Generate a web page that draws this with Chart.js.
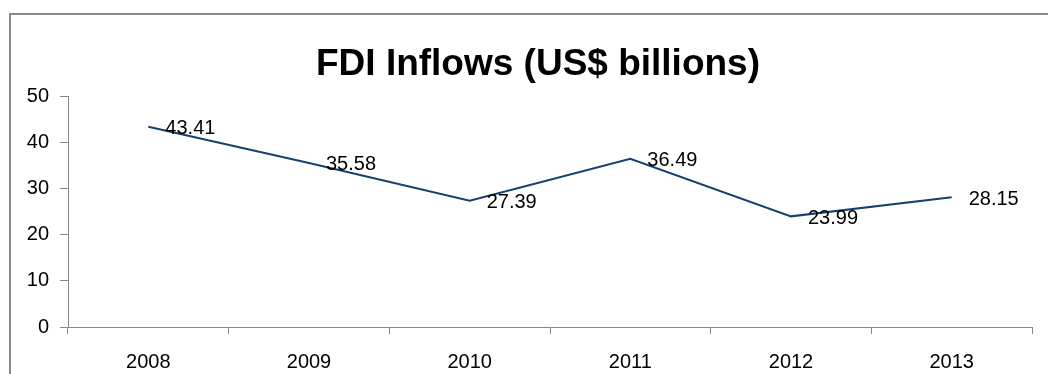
<!DOCTYPE html>
<html>
<head>
<meta charset="utf-8">
<script src="https://cdn.jsdelivr.net/npm/chart.js@4/dist/chart.umd.min.js"></script>
<style>
  html, body { margin: 0; padding: 0; background: #fff; overflow: hidden; }
  #wrap { position: relative; width: 1048px; height: 374px; overflow: hidden; }
  #frame {
    position: absolute; left: 9px; top: 13px;
    width: 1100px; height: 420px;
    border: 2px solid #888; box-sizing: border-box;
  }
  canvas { position: absolute; left: 0; top: 0; }
</style>
</head>
<body>
<div id="wrap">
  <div id="frame"></div>
  <!-- canvas sengaja lebih lebar dari jendela supaya judul di tengah bingkai -->
  <canvas id="fdi__chart" width="1076" height="374"></canvas>
</div>
<script>
// data dari gambar
const years = ["2008", "2009", "2010", "2011", "2012", "2013"]
const inflows = [43.41, 35.58, 27.39, 36.49, 23.99, 28.15]
const yMin = 0
const yMax = 50
const yStep = 10

const FONT = "'Liberation Sans', Arial, sans-serif"

// label angka di sebelah kanan titik, seperti di Excel
const valueLabels = {
  id: "valueLabels",
  afterDatasetsDraw(chart) {
    const ctx = chart.ctx
    const meta = chart.getDatasetMeta(0)
    ctx.save()
    ctx.font = "20px " + FONT
    ctx.fillStyle = "#000"
    ctx.textAlign = "left"
    ctx.textBaseline = "middle"
    meta.data.forEach((pt, i) => {
      ctx.fillText(inflows[i].toFixed(2), pt.x + 17, pt.y + 2)
    })
    ctx.restore()
  },
}

const canvas = document.getElementById("fdi__chart")
new Chart(canvas, {
  type: "line",
  data: {
    labels: years,
    datasets: [
      {
        data: inflows,
        borderColor: "#17406d",
        borderWidth: 2,
        pointRadius: 0,
        tension: 0,
        fill: false,
      },
    ],
  },
  options: {
    responsive: false,
    animation: false,
    layout: { padding: 0 },
    plugins: {
      legend: { display: false },
      tooltip: { enabled: false },
      title: {
        display: true,
        text: "FDI Inflows (US$ billions)",
        color: "#000",
        font: { family: FONT, size: 37, weight: "bold", lineHeight: 1.2 },
        padding: { top: 43, bottom: 9 },
      },
    },
    scales: {
      x: {
        offset: true,
        grid: { offset: true, drawOnChartArea: false, drawTicks: true, tickLength: 7, color: "#888" },
        border: { color: "#888", width: 1 },
        ticks: { color: "#000", font: { family: FONT, size: 20 }, padding: 16, maxRotation: 0 },
        afterFit(scale) { scale.height = 47 },
      },
      y: {
        min: yMin,
        max: yMax,
        grid: { drawOnChartArea: false, drawTicks: true, tickLength: 8, color: "#888" },
        border: { color: "#888", width: 1 },
        ticks: {
          stepSize: yStep,
          autoSkip: false,
          color: "#000",
          font: { family: FONT, size: 20 },
          padding: 11,
        },
        afterFit(scale) { scale.width = 68 },
      },
      // sumbu kosong di kanan, hanya untuk memberi ruang
      yRight: {
        position: "right",
        min: yMin,
        max: yMax,
        grid: { display: false },
        border: { display: false },
        ticks: { display: false },
        afterFit(scale) { scale.width = 44 },
      },
    },
  },
  plugins: [valueLabels],
})
</script>
</body>
</html>
